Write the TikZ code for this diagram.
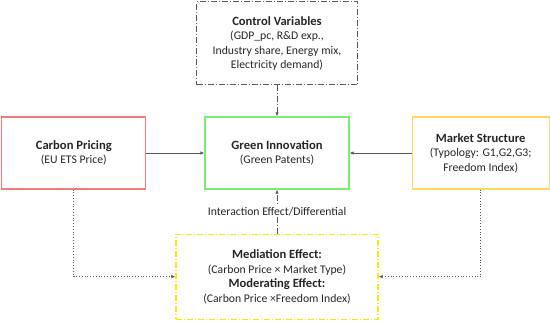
\documentclass[tikz,border=0pt]{standalone}
\usepackage{fontspec}
\setmainfont{Carlito}
\usepackage{xcolor}
\usetikzlibrary{arrows.meta,positioning}
\definecolor{boxred}{HTML}{F47C7C}
\definecolor{boxgreen}{HTML}{78F078}
\definecolor{boxgold}{HTML}{FFD95A}
\definecolor{boxyellow}{HTML}{F2F200}
\definecolor{linegray}{HTML}{595959}
\newcommand{\hd}[1]{{\fontsize{12.6}{14.5}\selectfont\bfseries #1}}

\begin{document}
\begin{tikzpicture}[x=1pt,y=-1pt,>={Latex[length=4pt,width=3.5pt]},
    box/.style={line width=1.2pt,align=center,inner sep=2pt,
      font=\fontsize{11.7}{14.5}\selectfont,text=black!85},
    dashdot/.style={dash pattern=on 6pt off 2pt on 1pt off 2pt},
    link/.style={->,linegray,line width=0.8pt}]
  \useasboundingbox (0,0) rectangle (550,322);
  \node[box,draw=boxgreen,minimum width=144pt,minimum height=72pt] (green) at (277,153)
    {\hd{Green Innovation}\\(Green Patents)};
  \node[box,draw=boxred,minimum width=144pt,minimum height=72pt,left=58pt of green] (carbon)
    {\hd{Carbon Pricing}\\(EU ETS Price)};
  \node[box,draw=boxgold,minimum width=137pt,minimum height=72pt,right=62pt of green] (market)
    {\hd{Market Structure}\\(Typology: G1,G2,G3;\\Freedom Index)};
  \node[box,draw=linegray,dashdot,minimum width=161pt,minimum height=83pt,above=31pt of green] (control)
    {\hd{Control Variables}\\(GDP\_pc, R\&D exp.,\\Industry share, Energy mix,\\Electricity demand)};
  \node[box,draw=boxyellow,dashdot,minimum width=202pt,minimum height=85pt,below=44pt of green] (effect)
    {\hd{Mediation Effect:}\\(Carbon Price × Market Type)\\
     \hd{Moderating Effect:}\\(Carbon Price ×Freedom Index)};
  % arrows into the outcome
  \draw[link] (carbon) -- (green);
  \draw[link] (market) -- (green);
  \draw[link,dashdot] (control) -- (green);
  \draw[link,dashdot] (effect) -- node[fill=white,inner sep=1pt,text=black!85,
    font=\fontsize{11.7}{13}\selectfont] {Interaction Effect/Differential} (green);
  % drivers into the interaction
  \draw[link,dotted] (carbon.south) |- (effect.west);
  \draw[link,dotted] (market.south) |- (effect.east);
\end{tikzpicture}
\end{document}
